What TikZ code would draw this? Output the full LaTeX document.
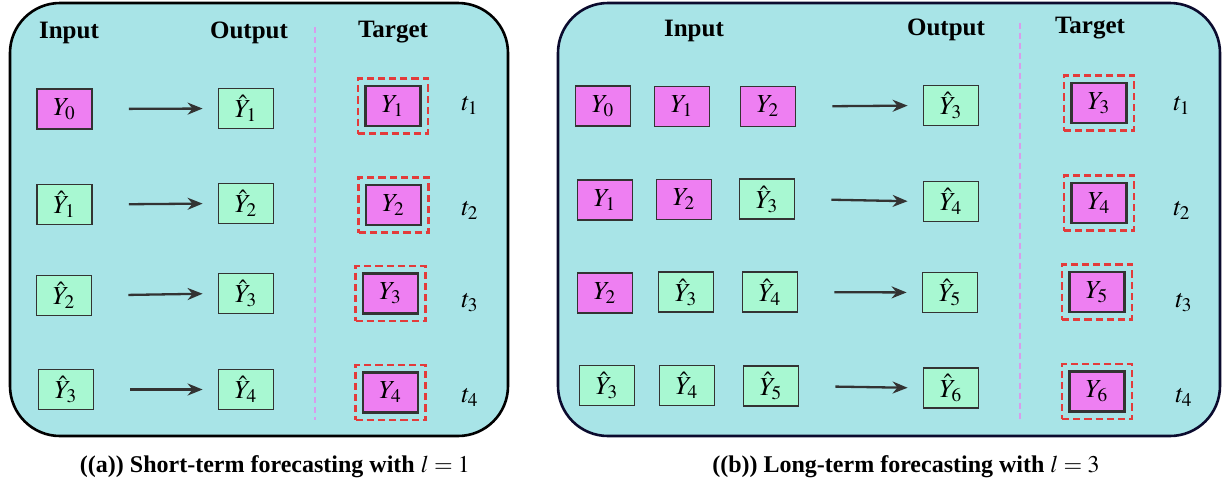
\documentclass[tikz,border=0pt]{standalone}
\usepackage{mathptmx}
\usepackage{fontspec}
\setmainfont{Liberation Serif}
\usetikzlibrary{arrows.meta,fit}
\definecolor{panelbg}{HTML}{A8E4E7}
\definecolor{mag}{HTML}{EE7FF2}
\definecolor{grn}{HTML}{A8F8D2}
\definecolor{boxline}{HTML}{333333}
\definecolor{reddash}{HTML}{E33B3B}
\definecolor{pinkline}{HTML}{D99CEC}
\definecolor{navy}{HTML}{0B0B2E}
\begin{document}
\begin{tikzpicture}[x=0.5pt,y=-0.5pt,
 box/.style={draw=boxline,line width=0.9pt,minimum width=27.5pt,minimum height=20pt,inner sep=0pt,font=\fontsize{13}{15}\selectfont},
 mbox/.style={box,fill=mag}, gbox/.style={box,fill=grn},
 tbox/.style={box,fill=mag,line width=1.1pt},
 tfrm/.style={draw=reddash,line width=1.2pt,dash pattern=on 3.6pt off 2pt,inner sep=3.2pt},
 hdr/.style={font=\bfseries\fontsize{12.5}{15}\selectfont},
 tlab/.style={font=\fontsize{13}{15}\selectfont},
 arr/.style={draw=boxline,line width=1.15pt,-{Stealth[length=7.5pt,width=6pt]},shorten <=18pt,shorten >=7.5pt},
 panel/.style={fill=panelbg,line width=1.3pt,rounded corners=25pt},
 sep/.style={draw=pinkline,line width=0.6pt,dash pattern=on 3pt off 2pt},
 captxt/.style={font=\bfseries\fontsize{12}{14}\selectfont}]
\useasboundingbox (0,0) rectangle (1223,484);
% panels
\draw[panel,draw=black] (10,3) rectangle (508,436);
\draw[panel,draw=navy] (558,3) rectangle (1220,436);
% ---------- panel (a) ----------
\node[hdr] (ha1) at (69,33) {Input};
\node[hdr] (ha2) at (249,33) {Output};
\node[hdr] (ha3) at (393,32) {Target};
\coordinate (sa1) at (315,27);
\coordinate (sa2) at (315,420);
\draw[sep] (sa1) -- (sa2);
% row 1
\node[mbox] (a11) at (64.5,109) {$Y_0$};
\node[gbox] (ao1) at (246,108.5) {$\hat{Y}_1$};
\node[tbox] (at1) at (393,106) {$Y_1$};
\node[tfrm,fit=(at1)] (af1) {};
\node[tlab] (atl1) at (470,105) {$t_1$};
\draw[arr] (a11.east) -- (ao1.west);
% row 2
\node[gbox] (a21) at (64.5,204.5) {$\hat{Y}_1$};
\node[gbox] (ao2) at (246,203.5) {$\hat{Y}_2$};
\node[tbox] (at2) at (393.5,205) {$Y_2$};
\node[tfrm,fit=(at2)] (af2) {};
\node[tlab] (atl2) at (470,210) {$t_2$};
\draw[arr] (a21.east) -- (ao2.west);
% row 3
\node[gbox] (a31) at (64,295.5) {$\hat{Y}_2$};
\node[gbox] (ao3) at (246,293.5) {$\hat{Y}_3$};
\node[tbox] (at3) at (390.5,293.5) {$Y_3$};
\node[tfrm,fit=(at3)] (af3) {};
\node[tlab] (atl3) at (470,303) {$t_3$};
\draw[arr] (a31.east) -- (ao3.west);
% row 4
\node[gbox] (a41) at (66,389.5) {$\hat{Y}_3$};
\node[gbox] (ao4) at (246,389.5) {$\hat{Y}_4$};
\node[tbox] (at4) at (390.5,392.5) {$Y_4$};
\node[tfrm,fit=(at4)] (af4) {};
\node[tlab] (atl4) at (470,397) {$t_4$};
\draw[arr] (a41.east) -- (ao4.west);
\node[captxt] (capa) at (275,467) {((a)) Short-term forecasting with $l=1$};
% ---------- panel (b) ----------
\node[hdr] (hb1) at (694,31) {Input};
\node[hdr] (hb2) at (946,30) {Output};
\node[hdr] (hb3) at (1090,28) {Target};
\coordinate (sb1) at (1020,23);
\coordinate (sb2) at (1020,420);
\draw[sep] (sb1) -- (sb2);
% row 1
\node[mbox] (b11) at (603,106) {$Y_0$};
\node[mbox] (b12) at (682,106.5) {$Y_1$};
\node[mbox] (b13) at (768,106.5) {$Y_2$};
\node[gbox] (bo1) at (951,105.5) {$\hat{Y}_3$};
\node[tbox] (bt1) at (1099,103) {$Y_3$};
\node[tfrm,fit=(bt1)] (bf1) {};
\node[tlab] (btl1) at (1182,105) {$t_1$};
\draw[arr] (b13.east) -- (bo1.west);
% row 2
\node[mbox] (b21) at (605,200) {$Y_1$};
\node[mbox] (b22) at (684,199.5) {$Y_2$};
\node[gbox] (b23) at (767,199) {$\hat{Y}_3$};
\node[gbox] (bo2) at (951,201.5) {$\hat{Y}_4$};
\node[tbox] (bt2) at (1099,203) {$Y_4$};
\node[tfrm,fit=(bt2)] (bf2) {};
\node[tlab] (btl2) at (1182,210) {$t_2$};
\draw[arr] (b23.east) -- (bo2.west);
% row 3
\node[mbox] (b31) at (605,293) {$Y_2$};
\node[gbox] (b32) at (686,292) {$\hat{Y}_3$};
\node[gbox] (b33) at (770,292) {$\hat{Y}_4$};
\node[gbox] (bo3) at (950,292.5) {$\hat{Y}_5$};
\node[tbox] (bt3) at (1097,292) {$Y_5$};
\node[tfrm,fit=(bt3)] (bf3) {};
\node[tlab] (btl3) at (1184,303) {$t_3$};
\draw[arr] (b33.east) -- (bo3.west);
% row 4
\node[gbox] (b41) at (607,385.5) {$\hat{Y}_3$};
\node[gbox] (b42) at (687,385.5) {$\hat{Y}_4$};
\node[gbox] (b43) at (771,386) {$\hat{Y}_5$};
\node[gbox] (bo4) at (951,388) {$\hat{Y}_6$};
\node[tbox] (bt4) at (1097,391.5) {$Y_6$};
\node[tfrm,fit=(bt4)] (bf4) {};
\node[tlab] (btl4) at (1184,397) {$t_4$};
\draw[arr] (b43.east) -- (bo4.west);
\node[captxt] (capb) at (906,467) {((b)) Long-term forecasting with $l=3$};
\end{tikzpicture}
\end{document}
